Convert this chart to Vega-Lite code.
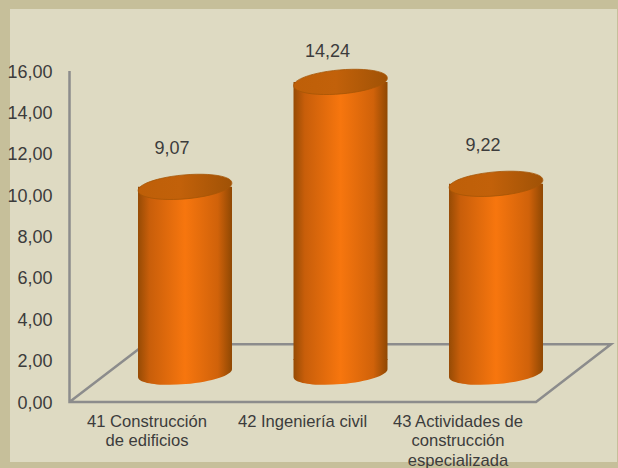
{
  "$schema": "https://vega.github.io/schema/vega-lite/v6.json",
  "width": 607,
  "height": 453,
  "autosize": "none",
  "padding": {"left": 10, "top": 9, "right": 1, "bottom": 6},
  "background": "#C6BF9A",
  "config": {"view": {"fill": "#DEDAC2", "stroke": null}, "font": "Liberation Sans"},
  "datasets": {
    "cats": [
      {"cat": "41 Construcción|de edificios", "value": 9.07, "label": "9,07"},
      {"cat": "42 Ingeniería civil", "value": 14.24, "label": "14,24"},
      {"cat": "43 Actividades de|construcción|especializada", "value": 9.22, "label": "9,22"}
    ],
    "frame": [
      {"step": 1, "fx": 59.5, "fy": 16},
      {"step": 2, "fx": 59.5, "fy": 0},
      {"step": 3, "fx": 526, "fy": 0},
      {"step": 4, "fx": 601, "fy": 2.79},
      {"step": 5, "fx": 135, "fy": 2.79},
      {"step": 6, "fx": 59.5, "fy": 0}
    ]
  },
  "layer": [
    {
      "data": {"name": "frame"},
      "mark": {"type": "line", "color": "#8C8C8C", "strokeWidth": 2.5, "clip": false},
      "encoding": {
        "x": {"field": "fx", "type": "quantitative", "scale": {"domain": [0, 607]}, "axis": null},
        "y": {
          "field": "fy", "type": "quantitative",
          "scale": {"domain": [-2.9, 19], "nice": false, "zero": false},
          "axis": {
            "orient": "left", "offset": -42, "values": [0, 2, 4, 6, 8, 10, 12, 14, 16],
            "title": null, "domain": false, "ticks": false, "grid": false, "labelPadding": 0, "labelOffset": 1,
            "labelFontSize": 18, "labelColor": "#3C3C3C", "labelFont": "Liberation Sans",
            "labelExpr": "replace(format(datum.value, '.2f'), '.', ',')"
          }
        },
        "order": {"field": "step", "type": "quantitative"}
      }
    },
    {
      "data": {"name": "cats"},
      "encoding": {
        "x": {
          "field": "cat", "type": "nominal", "sort": null,
          "scale": {"range": [97.25, 563.75], "paddingInner": 0, "paddingOuter": 0},
          "axis": {
            "orient": "bottom", "offset": -49, "title": null, "domain": false, "ticks": false, "grid": false,
            "labelAngle": 0, "labelOffset": -38, "labelFontSize": 16.6, "labelColor": "#3C3C3C", "labelLineHeight": 19.5,
            "labelPadding": 0, "labelLimit": 300, "labelFont": "Liberation Sans", "labelBaseline": "top",
            "labelExpr": "split(datum.label, '|')"
          }
        }
      },
      "layer": [
        {
          "mark": {"type": "point", "filled": true, "opacity": 1, "size": 8836,
            "shape": "M-1,-0.3 L-1,0.087 A1,0.235,-5,1,0,1,-0.087 L1,-0.3 Z",
            "fill": {"gradient": "linear", "x1": 0, "y1": 0, "x2": 1, "y2": 0,
              "stops": [{"offset": 0, "color": "#964B05"}, {"offset": 0.12, "color": "#C85E0A"}, {"offset": 0.5, "color": "#F7760E"}, {"offset": 0.85, "color": "#D0620A"}, {"offset": 1, "color": "#8F4803"}]}},
          "encoding": {
            "y": {"datum": -0.1, "type": "quantitative", "scale": {"domain": [-4.48, 17.83], "nice": false, "zero": false}, "axis": null}
          }
        },
        {
          "mark": {"type": "bar", "size": 94,
            "fill": {"gradient": "linear", "x1": 0, "y1": 0, "x2": 1, "y2": 0,
              "stops": [{"offset": 0, "color": "#964B05"}, {"offset": 0.12, "color": "#C85E0A"}, {"offset": 0.5, "color": "#F7760E"}, {"offset": 0.85, "color": "#D0620A"}, {"offset": 1, "color": "#8F4803"}]}},
          "encoding": {
            "y": {"field": "value", "type": "quantitative", "scale": {"domain": [-4.48, 17.83], "nice": false, "zero": false}, "axis": null},
            "y2": {"datum": 0.54}
          }
        },
        {
          "mark": {"type": "point", "filled": true, "opacity": 1, "size": 8836, "stroke": "#A65506", "strokeWidth": 0.8,
            "fill": {"gradient": "linear", "x1": 0, "y1": 0, "x2": 1, "y2": 0,
              "stops": [{"offset": 0, "color": "#BE5F08"}, {"offset": 0.45, "color": "#C2610A"}, {"offset": 1, "color": "#A05206"}]},
            "shape": "M-0.996,0.087 A1,0.25,-5,1,0,0.996,-0.087 A1,0.25,-5,1,0,-0.996,0.087 Z"},
          "encoding": {
            "y": {"field": "value", "type": "quantitative", "scale": {"domain": [-4.48, 17.83], "nice": false, "zero": false}, "axis": null}
          }
        },
        {
          "mark": {"type": "text", "dx": -13, "fontSize": 18, "color": "#3C3C3C", "font": "Liberation Sans", "baseline": "middle"},
          "encoding": {
            "y": {"field": "value", "type": "quantitative", "scale": {"domain": [-7.58, 16.52], "nice": false, "zero": false}, "axis": null},
            "text": {"field": "label"}
          }
        }
      ],
      "resolve": {"scale": {"y": "independent"}, "axis": {"y": "independent"}}
    }
  ],
  "resolve": {"scale": {"x": "independent", "y": "independent"}, "axis": {"x": "independent", "y": "independent"}}
}
